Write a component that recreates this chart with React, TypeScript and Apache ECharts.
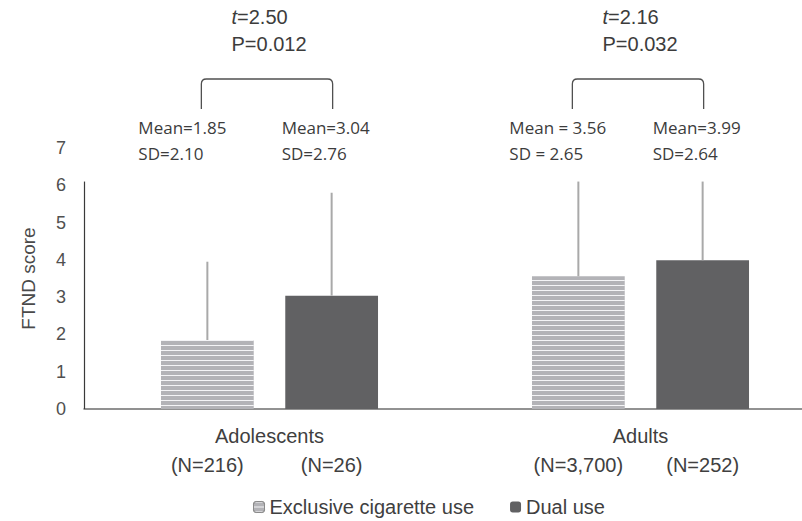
import React, { useEffect, useRef } from 'react';
import * as echarts from 'echarts';

const categories = ['Adolescents', 'Adults'];
const exclusiveMean = [1.85, 3.56];
const exclusiveSD = [2.1, 2.65];
const dualMean = [3.04, 3.99];
const dualSD = [2.76, 2.64];
const exclusiveN = ['216', '3,700'];
const dualN = ['26', '252'];
const exclusiveSep = ['=', ' = '];
const dualSep = ['=', '='];
const tValues = ['2.50', '2.16'];
const pValues = ['0.012', '0.032'];
const yMin = 0;
const yMax = 7;
const yInterval = 1;
const axisLineTop = 6.1;

const FONT = '"Liberation Sans", Arial, sans-serif';
const ANNOT_FONT = '"Open Sans", "Liberation Sans", sans-serif';

export default function App() {
  const ref = useRef<HTMLDivElement>(null);
  useEffect(() => {
    document.body.style.margin = '0';
    const chart = echarts.init(ref.current!, null, { renderer: 'svg' });
    const stripeDecal = {
      symbol: 'rect',
      symbolSize: 1,
      dashArrayX: [1, 0],
      dashArrayY: [1, 4],
      color: '#f4f4f6',
      rotation: 0,
    };
    const option: any = {
      animation: false,
      textStyle: { fontFamily: FONT },
      grid: { left: 84, width: 742, top: 148, bottom: 112, outerBoundsMode: 'none', containLabel: false },
      xAxis: {
        type: 'category',
        data: categories,
        axisTick: { show: false },
        axisLine: { show: true, lineStyle: { color: '#6e6e6e', width: 1.5 } },
        axisLabel: { fontSize: 20, color: '#404040', margin: 17, fontFamily: FONT },
      },
      yAxis: {
        type: 'value',
        min: yMin,
        max: yMax,
        interval: yInterval,
        name: 'FTND score',
        nameLocation: 'middle',
        nameGap: 46,
        nameTextStyle: { fontSize: 19, color: '#4a4a4a', fontFamily: FONT },
        axisLine: { show: false },
        axisTick: { show: false },
        splitLine: { show: false },
        axisLabel: { fontSize: 18, color: '#505050', margin: 18, fontFamily: FONT },
      },
      legend: {
        left: 248,
        top: 492,
        itemWidth: 11,
        itemHeight: 11,
        itemGap: 36,
        textStyle: { fontSize: 20, color: '#404040', fontFamily: FONT },
        data: [
          { name: 'Exclusive cigarette use', itemStyle: { borderColor: '#8a8a8a', borderWidth: 1 } },
          { name: 'Dual use' },
        ],
      },
      series: [
        {
          name: 'Exclusive cigarette use',
          type: 'bar',
          data: exclusiveMean,
          barWidth: '25%',
          barGap: '34%',
          itemStyle: { color: '#b3b3b7', decal: stripeDecal },
          label: {
            show: true,
            position: 'bottom',
            distance: 46,
            fontSize: 20,
            color: '#404040',
            fontFamily: FONT,
            formatter: (p: any) => `(N=${exclusiveN[p.dataIndex]})`,
          },
        },
        {
          name: 'Dual use',
          type: 'bar',
          data: dualMean,
          barWidth: '25%',
          barGap: '34%',
          itemStyle: { color: '#616163' },
          label: {
            show: true,
            position: 'bottom',
            distance: 46,
            fontSize: 20,
            color: '#404040',
            fontFamily: FONT,
            formatter: (p: any) => `(N=${dualN[p.dataIndex]})`,
          },
        },
        {
          type: 'custom',
          name: 'annotations',
          silent: true,
          clip: false,
          encode: { x: 0, y: 1 },
          data: categories.map((_, i) => [i, 0]),
          z: 5,
          renderItem: (params: any, api: any) => {
            const i = api.value(0);
            const cs = params.coordSys;
            const [cx, base] = api.coord([i, 0]);
            const band = api.size([1, 0])[0];
            const bw = band * 0.25;
            const off = (bw + bw * 0.34) / 2;
            const xs = [cx - off, cx + off];
            const means = [exclusiveMean[i], dualMean[i]];
            const sds = [exclusiveSD[i], dualSD[i]];
            const top = cs.y;
            const children: any[] = [];
            if (i === 0) {
              const yTop = api.coord([0, axisLineTop])[1];
              children.push({
                type: 'line',
                shape: { x1: cs.x + 0.5, y1: base, x2: cs.x + 0.5, y2: yTop },
                style: { stroke: '#3a3a3a', lineWidth: 1.2 },
              });
            }
            for (let k = 0; k < 2; k++) {
              const y1 = api.coord([i, means[k]])[1];
              const y2 = api.coord([i, Math.min(means[k] + sds[k], axisLineTop)])[1];
              children.push({
                type: 'line',
                shape: { x1: xs[k], y1, x2: xs[k], y2 },
                style: { stroke: '#a9a9a9', lineWidth: 2 },
              });
            }
            const meanTxt = [
              `Mean${exclusiveSep[i]}${exclusiveMean[i].toFixed(2)}`,
              `Mean${dualSep[i]}${dualMean[i].toFixed(2)}`,
            ];
            const sdTxt = [
              `SD${exclusiveSep[i]}${exclusiveSD[i].toFixed(2)}`,
              `SD${dualSep[i]}${dualSD[i].toFixed(2)}`,
            ];
            const txtX = [xs[0] - 69, xs[1] - 50];
            for (let k = 0; k < 2; k++) {
              children.push({
                type: 'text',
                style: {
                  text: meanTxt[k], x: txtX[k], y: top - 21, align: 'left', verticalAlign: 'middle',
                  fontSize: 17, fontFamily: ANNOT_FONT, fill: '#3c3c3c',
                },
              });
              children.push({
                type: 'text',
                style: {
                  text: sdTxt[k], x: txtX[k], y: top + 5, align: 'left', verticalAlign: 'middle',
                  fontSize: 17, fontFamily: ANNOT_FONT, fill: '#3c3c3c',
                },
              });
            }
            const by = top - 69;
            const legB = top - 39;
            const r = 5;
            const lx = xs[0] - 6;
            const rx = xs[1] + 1;
            children.push({
              type: 'path',
              shape: {
                pathData: `M${lx} ${legB} L${lx} ${by + r} Q${lx} ${by} ${lx + r} ${by} L${rx - r} ${by} Q${rx} ${by} ${rx} ${by + r} L${rx} ${legB}`,
              },
              style: { stroke: '#505050', lineWidth: 1.3, fill: 'none' },
            });
            const tx = cx - 38;
            children.push({
              type: 'text',
              style: {
                text: `{i|t}{n|=${tValues[i]}}`,
                x: tx, y: top - 131, align: 'left', verticalAlign: 'middle',
                fontSize: 20, fontFamily: FONT, fill: '#3c3c3c',
                rich: {
                  i: { fontStyle: 'italic', fontSize: 20, fontFamily: FONT, fill: '#3c3c3c' },
                  n: { fontSize: 20, fontFamily: FONT, fill: '#3c3c3c' },
                },
              },
            });
            children.push({
              type: 'text',
              style: {
                text: `P=${pValues[i]}`,
                x: tx, y: top - 104, align: 'left', verticalAlign: 'middle',
                fontSize: 20, fontFamily: FONT, fill: '#3c3c3c',
              },
            });
            return { type: 'group', children };
          },
        },
      ],
    };
    chart.setOption(option);
    return () => chart.dispose();
  }, []);
  return <div ref={ref} style={{ width: 802, height: 521 }} />;
}
